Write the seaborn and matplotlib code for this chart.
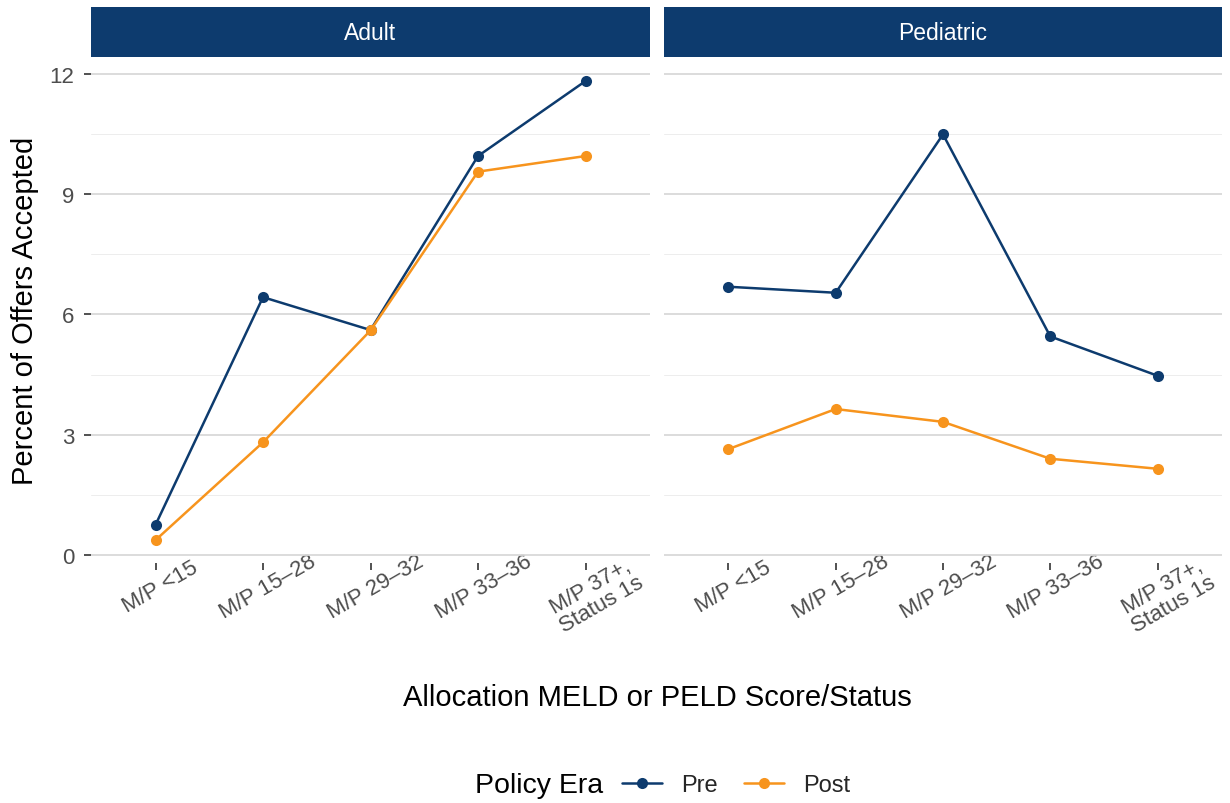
import numpy as np
import pandas as pd
import matplotlib
matplotlib.use("Agg")
import matplotlib.pyplot as plt
from matplotlib.lines import Line2D
from matplotlib.ticker import MultipleLocator
import seaborn as sns

categories = ["M/P <15", "M/P 15\u201328", "M/P 29\u201332", "M/P 33\u201336", "M/P 37+,\nStatus 1s"]
panels = ["Adult", "Pediatric"]
eras = ["Pre", "Post"]
adult_pre = [0.75, 6.43, 5.61, 9.95, 11.82]
adult_post = [0.37, 2.81, 5.60, 9.56, 9.95]
ped_pre = [6.69, 6.54, 10.49, 5.45, 4.47]
ped_post = [2.64, 3.64, 3.32, 2.40, 2.15]
y_ticks = [0, 3, 6, 9, 12]

colors = {"Pre": "#0D3B6E", "Post": "#F7941D"}

rows = []
for panel, pre, post in [("Adult", adult_pre, adult_post), ("Pediatric", ped_pre, ped_post)]:
    for i, c in enumerate(categories):
        rows.append({"panel": panel, "cat": c, "era": "Pre", "val": pre[i]})
        rows.append({"panel": panel, "cat": c, "era": "Post", "val": post[i]})
df = pd.DataFrame(rows)

sns.set_theme(style="white")
plt.rcParams["font.family"] = ["Liberation Sans", "DejaVu Sans"]

fig = plt.figure(figsize=(12.3, 8.04), dpi=100)
W, H = 1230, 804
def rect(x0, y0, x1, y1):
    return [x0 / W, 1 - y1 / H, (x1 - x0) / W, (y1 - y0) / H]

panel_px = [(91, 650), (664, 1222)]
top, bottom = 58, 564
axes = []
for k, panel in enumerate(panels):
    x0, x1 = panel_px[k]
    ax = fig.add_axes(rect(x0, top, x1, bottom))
    axes.append(ax)
    sub = df[df.panel == panel]
    sns.lineplot(data=sub, x="cat", y="val", hue="era", hue_order=eras, palette=colors,
                 marker="o", markersize=8, markeredgewidth=0, linewidth=1.8, ax=ax,
                 legend=False, sort=False)
    ax.set_xlim(-0.6, 4.6)
    ax.set_ylim(-0.2, 12.42)
    ax.yaxis.set_major_locator(MultipleLocator(3))
    ax.yaxis.set_minor_locator(MultipleLocator(1.5))
    ax.set_yticks(y_ticks)
    ax.grid(True, axis="y", which="major", color="#D9D9D9", linewidth=1.3)
    ax.grid(True, axis="y", which="minor", color="#EDEDED", linewidth=0.7)
    ax.grid(False, axis="x")
    ax.set_axisbelow(True)
    for s in ax.spines.values():
        s.set_visible(False)
    ax.set_xticks(range(len(categories)))
    ax.set_xticklabels(categories, rotation=30, ha="center", va="top", fontsize=16,
                       color="#4D4D4D", multialignment="center", linespacing=1.0,
                       rotation_mode="anchor")
    ax.tick_params(axis="x", which="major", length=5, width=1.2, color="#333333", pad=5, bottom=True)
    ax.tick_params(axis="y", which="major", length=5, width=1.2, color="#333333", pad=7,
                   labelsize=16, labelcolor="#4D4D4D", left=True)
    ax.tick_params(axis="y", which="minor", length=0)
    ax.set_xlabel("")
    ax.set_ylabel("")
    if k == 1:
        ax.tick_params(axis="y", labelleft=False, left=False)
    # strip
    sax = fig.add_axes(rect(x0, 8, x1, 58))
    sax.set_facecolor("#0D3B6E")
    sax.set_xticks([]); sax.set_yticks([])
    for s in sax.spines.values():
        s.set_visible(False)
    sax.text(0.5, 0.5, panel, color="white", fontsize=16.5, ha="center", va="center",
             transform=sax.transAxes)

fig.text(657 / W, 1 - 698 / H, "Allocation MELD or PELD Score/Status", ha="center", va="center",
         fontsize=21, color="black")
fig.text(25 / W, 1 - 311 / H, "Percent of Offers Accepted", ha="center", va="center",
         rotation=90, fontsize=21, color="black")

fig.text(603 / W, 1 - 786 / H, "Policy Era", ha="right", va="center", fontsize=20.5, color="black")
handles = [Line2D([0], [0], color=colors[e], lw=1.8, marker="o", markersize=8, markeredgewidth=0)
           for e in eras]
fig.legend(handles, eras, loc="center left", bbox_to_anchor=(622 / W, 1 - 786 / H), ncol=2,
           frameon=False, fontsize=17, handlelength=1.7, handletextpad=0.8, columnspacing=1.1,
           borderaxespad=0, borderpad=0)

fig.savefig("out.png", dpi=100)
